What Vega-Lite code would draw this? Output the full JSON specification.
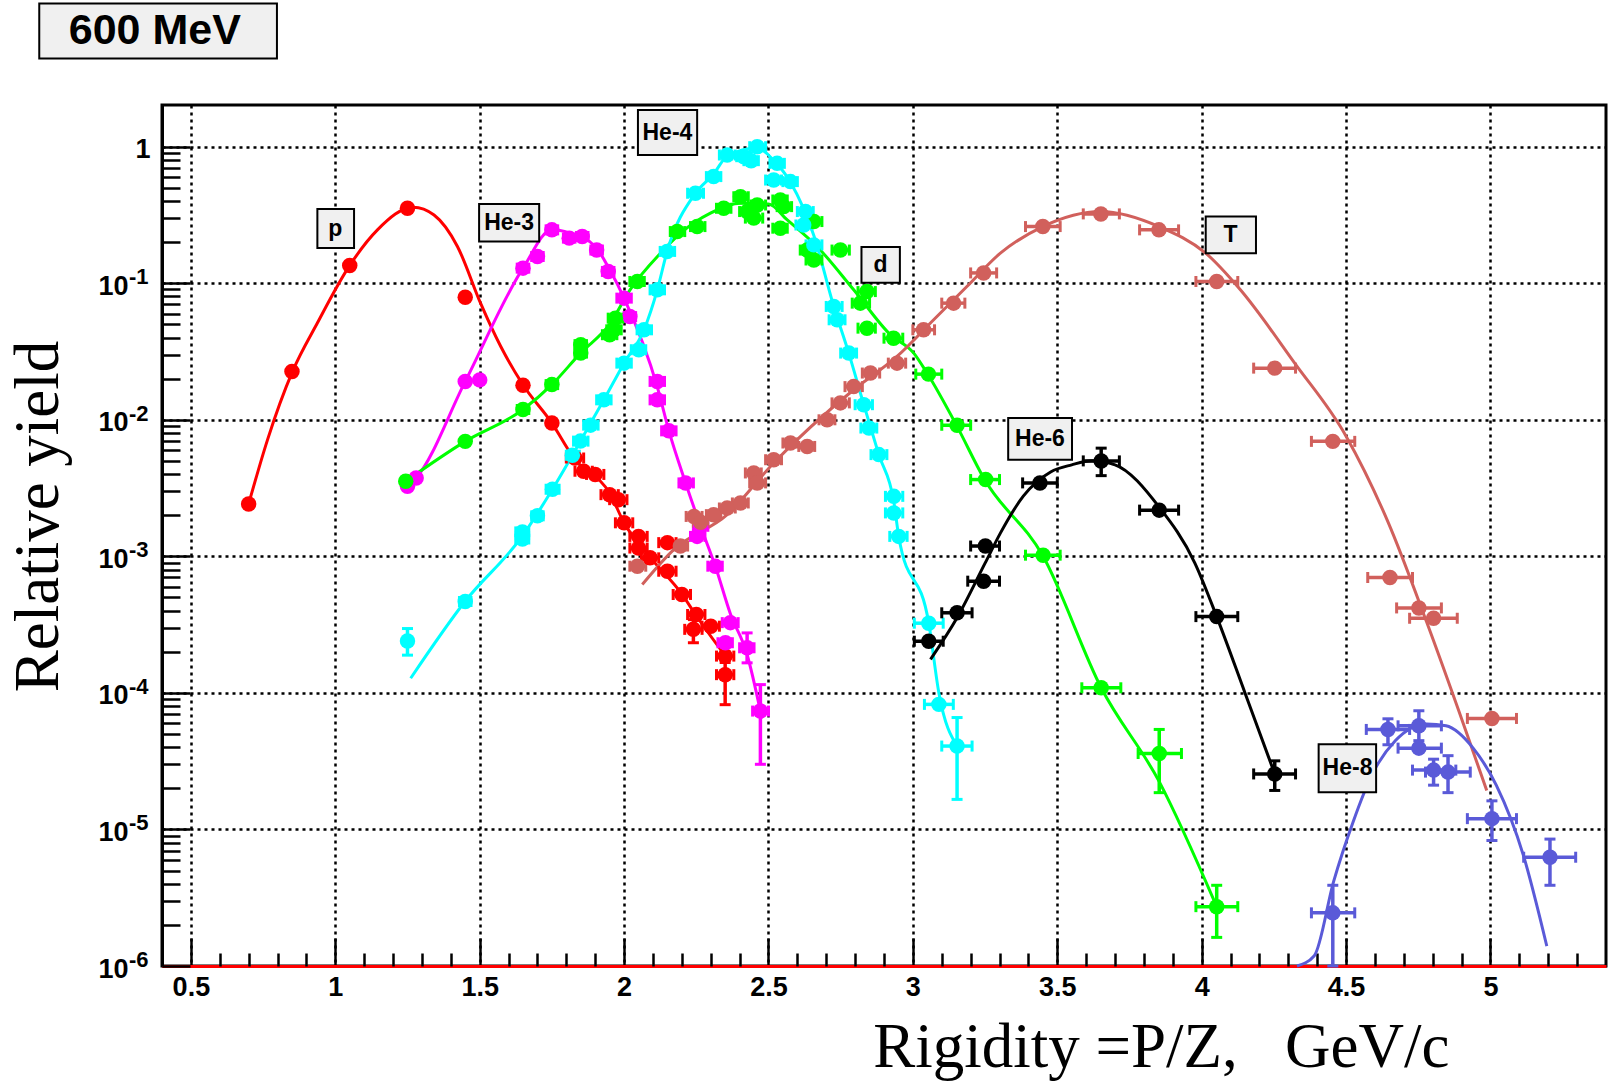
{
  "$schema": "https://vega.github.io/schema/vega-lite/v6.json",
  "width": 1444,
  "height": 861,
  "autosize": {"type": "none"},
  "padding": {"left": 162, "top": 105, "right": 2, "bottom": 118},
  "background": "white",
  "config": {"view": {"stroke": "black", "strokeWidth": 3}, "font": "Liberation Sans"},
  "resolve": {"axis": {"x": "independent"}},
  "datasets": {
    "pts": [
      {"s":"p","x":0.70,"y":0.00242},
      {"s":"p","x":0.85,"y":0.0226},
      {"s":"p","x":1.05,"y":0.135},
      {"s":"p","x":1.25,"y":0.354},
      {"s":"p","x":1.45,"y":0.079},
      {"s":"p","x":1.65,"y":0.0179},
      {"s":"p","x":1.75,"y":0.00946},
      {"s":"p","x":1.83,"y":0.00525,"xl":1.80,"xh":1.86},
      {"s":"p","x":1.86,"y":0.0042,"xl":1.83,"xh":1.89},
      {"s":"p","x":1.90,"y":0.00398,"xl":1.87,"xh":1.93},
      {"s":"p","x":1.95,"y":0.00283,"xl":1.92,"xh":1.98},
      {"s":"p","x":1.98,"y":0.0026,"xl":1.95,"xh":2.01},
      {"s":"p","x":2.00,"y":0.00176,"xl":1.97,"xh":2.03},
      {"s":"p","x":2.05,"y":0.0014,"xl":2.02,"xh":2.08},
      {"s":"p","x":2.05,"y":0.00115,"xl":2.02,"xh":2.08},
      {"s":"p","x":2.15,"y":0.00126,"xl":2.12,"xh":2.18},
      {"s":"p","x":2.09,"y":0.000975,"xl":2.06,"xh":2.12},
      {"s":"p","x":2.15,"y":0.000778,"xl":2.12,"xh":2.18},
      {"s":"p","x":2.20,"y":0.000526,"xl":2.17,"xh":2.23},
      {"s":"p","x":2.25,"y":0.000375,"xl":2.22,"xh":2.28},
      {"s":"p","x":2.24,"y":0.000292,"xl":2.21,"xh":2.27,"yl":0.000233,"yh":0.000344},
      {"s":"p","x":2.30,"y":0.000308,"xl":2.27,"xh":2.33},
      {"s":"p","x":2.35,"y":0.000186,"xl":2.32,"xh":2.38},
      {"s":"p","x":2.35,"y":0.000136,"xl":2.32,"xh":2.38,"yl":0.000082,"yh":0.000167},

      {"s":"He-3","x":1.25,"y":0.00326},
      {"s":"He-3","x":1.28,"y":0.00375},
      {"s":"He-3","x":1.45,"y":0.0191},
      {"s":"He-3","x":1.50,"y":0.0196},
      {"s":"He-3","x":1.65,"y":0.129,"xl":1.63,"xh":1.67},
      {"s":"He-3","x":1.70,"y":0.157,"xl":1.68,"xh":1.72},
      {"s":"He-3","x":1.75,"y":0.246,"xl":1.73,"xh":1.77},
      {"s":"He-3","x":1.81,"y":0.214,"xl":1.79,"xh":1.83},
      {"s":"He-3","x":1.855,"y":0.22,"xl":1.835,"xh":1.875},
      {"s":"He-3","x":1.905,"y":0.175,"xl":1.885,"xh":1.925},
      {"s":"He-3","x":1.945,"y":0.122,"xl":1.925,"xh":1.965},
      {"s":"He-3","x":2.00,"y":0.0778,"xl":1.975,"xh":2.025},
      {"s":"He-3","x":2.02,"y":0.057,"xl":2.0,"xh":2.04},
      {"s":"He-3","x":2.115,"y":0.0191,"xl":2.09,"xh":2.14},
      {"s":"He-3","x":2.115,"y":0.014,"xl":2.09,"xh":2.14},
      {"s":"He-3","x":2.155,"y":0.0083,"xl":2.13,"xh":2.18},
      {"s":"He-3","x":2.213,"y":0.00345,"xl":2.19,"xh":2.24},
      {"s":"He-3","x":2.265,"y":0.00166,"xl":2.24,"xh":2.29},
      {"s":"He-3","x":2.253,"y":0.0014,"xl":2.23,"xh":2.28},
      {"s":"He-3","x":2.316,"y":0.000847,"xl":2.29,"xh":2.34},
      {"s":"He-3","x":2.368,"y":0.000327,"xl":2.34,"xh":2.395},
      {"s":"He-3","x":2.351,"y":0.000233,"xl":2.325,"xh":2.375},
      {"s":"He-3","x":2.426,"y":0.000214,"xl":2.40,"xh":2.45,"yl":0.000166,"yh":0.000275},
      {"s":"He-3","x":2.472,"y":0.0000736,"xl":2.445,"xh":2.50,"yl":0.00003,"yh":0.000115},

      {"s":"d","x":1.244,"y":0.00355},
      {"s":"d","x":1.45,"y":0.00695},
      {"s":"d","x":1.65,"y":0.0119,"xl":1.63,"xh":1.67},
      {"s":"d","x":1.75,"y":0.0181,"xl":1.73,"xh":1.77},
      {"s":"d","x":1.85,"y":0.0308,"xl":1.83,"xh":1.87},
      {"s":"d","x":1.85,"y":0.0355,"xl":1.83,"xh":1.87},
      {"s":"d","x":1.95,"y":0.042,"xl":1.925,"xh":1.975},
      {"s":"d","x":1.97,"y":0.0555,"xl":1.945,"xh":1.995},
      {"s":"d","x":1.965,"y":0.0456,"xl":1.94,"xh":1.99},
      {"s":"d","x":2.046,"y":0.103,"xl":2.02,"xh":2.07},
      {"s":"d","x":2.184,"y":0.239,"xl":2.16,"xh":2.21},
      {"s":"d","x":2.253,"y":0.26,"xl":2.23,"xh":2.28},
      {"s":"d","x":2.345,"y":0.354,"xl":2.32,"xh":2.37},
      {"s":"d","x":2.403,"y":0.43,"xl":2.38,"xh":2.43},
      {"s":"d","x":2.426,"y":0.335,"xl":2.40,"xh":2.45},
      {"s":"d","x":2.461,"y":0.374,"xl":2.44,"xh":2.49},
      {"s":"d","x":2.449,"y":0.30,"xl":2.42,"xh":2.48},
      {"s":"d","x":2.541,"y":0.407,"xl":2.515,"xh":2.565},
      {"s":"d","x":2.553,"y":0.364,"xl":2.53,"xh":2.58},
      {"s":"d","x":2.541,"y":0.253,"xl":2.515,"xh":2.565},
      {"s":"d","x":2.657,"y":0.283,"xl":2.63,"xh":2.685},
      {"s":"d","x":2.634,"y":0.175,"xl":2.61,"xh":2.66},
      {"s":"d","x":2.749,"y":0.175,"xl":2.72,"xh":2.78},
      {"s":"d","x":2.657,"y":0.148,"xl":2.63,"xh":2.685},
      {"s":"d","x":2.841,"y":0.0869,"xl":2.81,"xh":2.87},
      {"s":"d","x":2.818,"y":0.0715,"xl":2.79,"xh":2.85},
      {"s":"d","x":2.841,"y":0.0469,"xl":2.81,"xh":2.87},
      {"s":"d","x":2.933,"y":0.0396,"xl":2.90,"xh":2.965},
      {"s":"d","x":3.054,"y":0.0216,"xl":3.01,"xh":3.10},
      {"s":"d","x":3.153,"y":0.00912,"xl":3.10,"xh":3.20},
      {"s":"d","x":3.252,"y":0.00365,"xl":3.20,"xh":3.30},
      {"s":"d","x":3.451,"y":0.00102,"xl":3.39,"xh":3.51},
      {"s":"d","x":3.652,"y":0.000109,"xl":3.585,"xh":3.72},
      {"s":"d","x":3.853,"y":0.000036,"xl":3.78,"xh":3.93,"yl":0.0000186,"yh":0.000054},
      {"s":"d","x":4.052,"y":0.00000272,"xl":3.98,"xh":4.125,"yl":0.00000162,"yh":0.0000039},

      {"s":"He-4","x":1.25,"y":0.00024,"yl":0.000189,"yh":0.000296},
      {"s":"He-4","x":1.45,"y":0.000467,"xl":1.43,"xh":1.47},
      {"s":"He-4","x":1.648,"y":0.00134,"xl":1.625,"xh":1.67},
      {"s":"He-4","x":1.648,"y":0.00151,"xl":1.625,"xh":1.67},
      {"s":"He-4","x":1.70,"y":0.00198,"xl":1.68,"xh":1.72},
      {"s":"He-4","x":1.752,"y":0.0031,"xl":1.73,"xh":1.775},
      {"s":"He-4","x":1.821,"y":0.0055,"xl":1.80,"xh":1.845},
      {"s":"He-4","x":1.849,"y":0.00698,"xl":1.825,"xh":1.875},
      {"s":"He-4","x":1.884,"y":0.00914,"xl":1.86,"xh":1.91},
      {"s":"He-4","x":1.93,"y":0.014,"xl":1.905,"xh":1.955},
      {"s":"He-4","x":2.0,"y":0.026,"xl":1.975,"xh":2.025},
      {"s":"He-4","x":2.051,"y":0.0326,"xl":2.025,"xh":2.075},
      {"s":"He-4","x":2.069,"y":0.0456,"xl":2.045,"xh":2.095},
      {"s":"He-4","x":2.115,"y":0.0895,"xl":2.09,"xh":2.14},
      {"s":"He-4","x":2.149,"y":0.171,"xl":2.125,"xh":2.175},
      {"s":"He-4","x":2.247,"y":0.456,"xl":2.22,"xh":2.275},
      {"s":"He-4","x":2.31,"y":0.604,"xl":2.285,"xh":2.335},
      {"s":"He-4","x":2.357,"y":0.869,"xl":2.33,"xh":2.385},
      {"s":"He-4","x":2.415,"y":0.845,"xl":2.39,"xh":2.44},
      {"s":"He-4","x":2.461,"y":1.0,"xl":2.435,"xh":2.49},
      {"s":"He-4","x":2.44,"y":0.79,"xl":2.415,"xh":2.465},
      {"s":"He-4","x":2.53,"y":0.755,"xl":2.505,"xh":2.555},
      {"s":"He-4","x":2.518,"y":0.57,"xl":2.49,"xh":2.545},
      {"s":"He-4","x":2.576,"y":0.555,"xl":2.55,"xh":2.60},
      {"s":"He-4","x":2.628,"y":0.335,"xl":2.60,"xh":2.655},
      {"s":"He-4","x":2.622,"y":0.267,"xl":2.595,"xh":2.65},
      {"s":"He-4","x":2.657,"y":0.191,"xl":2.63,"xh":2.685},
      {"s":"He-4","x":2.726,"y":0.0676,"xl":2.70,"xh":2.755},
      {"s":"He-4","x":2.738,"y":0.054,"xl":2.71,"xh":2.765},
      {"s":"He-4","x":2.778,"y":0.0308,"xl":2.75,"xh":2.805},
      {"s":"He-4","x":2.83,"y":0.0129,"xl":2.80,"xh":2.86},
      {"s":"He-4","x":2.848,"y":0.0087,"xl":2.82,"xh":2.875},
      {"s":"He-4","x":2.882,"y":0.00556,"xl":2.855,"xh":2.91},
      {"s":"He-4","x":2.934,"y":0.00275,"xl":2.905,"xh":2.965},
      {"s":"He-4","x":2.934,"y":0.00208,"xl":2.905,"xh":2.965},
      {"s":"He-4","x":2.951,"y":0.0014,"xl":2.92,"xh":2.98},
      {"s":"He-4","x":3.055,"y":0.000324,"xl":3.005,"xh":3.105},
      {"s":"He-4","x":3.09,"y":0.0000824,"xl":3.04,"xh":3.14},
      {"s":"He-4","x":3.153,"y":0.0000408,"xl":3.10,"xh":3.205,"yl":0.0000166,"yh":0.000066},

      {"s":"T","x":2.046,"y":0.000847,"xl":2.02,"xh":2.075},
      {"s":"T","x":2.195,"y":0.00119,"xl":2.17,"xh":2.22},
      {"s":"T","x":2.242,"y":0.00196,"xl":2.215,"xh":2.27},
      {"s":"T","x":2.265,"y":0.00178,"xl":2.24,"xh":2.29},
      {"s":"T","x":2.31,"y":0.00202,"xl":2.285,"xh":2.335},
      {"s":"T","x":2.357,"y":0.00226,"xl":2.33,"xh":2.385},
      {"s":"T","x":2.403,"y":0.00246,"xl":2.375,"xh":2.43},
      {"s":"T","x":2.449,"y":0.00408,"xl":2.42,"xh":2.475},
      {"s":"T","x":2.461,"y":0.00345,"xl":2.435,"xh":2.49},
      {"s":"T","x":2.518,"y":0.0051,"xl":2.49,"xh":2.545},
      {"s":"T","x":2.576,"y":0.00676,"xl":2.55,"xh":2.60},
      {"s":"T","x":2.634,"y":0.00638,"xl":2.605,"xh":2.66},
      {"s":"T","x":2.703,"y":0.01,"xl":2.675,"xh":2.73},
      {"s":"T","x":2.749,"y":0.0133,"xl":2.72,"xh":2.78},
      {"s":"T","x":2.795,"y":0.0175,"xl":2.765,"xh":2.825},
      {"s":"T","x":2.853,"y":0.022,"xl":2.825,"xh":2.885},
      {"s":"T","x":2.945,"y":0.026,"xl":2.915,"xh":2.975},
      {"s":"T","x":3.037,"y":0.0456,"xl":3.0,"xh":3.075},
      {"s":"T","x":3.141,"y":0.0715,"xl":3.10,"xh":3.18},
      {"s":"T","x":3.245,"y":0.119,"xl":3.20,"xh":3.29},
      {"s":"T","x":3.45,"y":0.26,"xl":3.39,"xh":3.51},
      {"s":"T","x":3.651,"y":0.322,"xl":3.59,"xh":3.715},
      {"s":"T","x":3.852,"y":0.246,"xl":3.785,"xh":3.92},
      {"s":"T","x":4.052,"y":0.103,"xl":3.98,"xh":4.125},
      {"s":"T","x":4.253,"y":0.0239,"xl":4.18,"xh":4.325},
      {"s":"T","x":4.454,"y":0.00695,"xl":4.38,"xh":4.53},
      {"s":"T","x":4.652,"y":0.0007,"xl":4.575,"xh":4.73},
      {"s":"T","x":4.752,"y":0.000419,"xl":4.675,"xh":4.83},
      {"s":"T","x":4.803,"y":0.000352,"xl":4.72,"xh":4.885},
      {"s":"T","x":5.005,"y":0.000065,"xl":4.92,"xh":5.09},

      {"s":"He-6","x":3.055,"y":0.000239,"xl":3.005,"xh":3.105},
      {"s":"He-6","x":3.153,"y":0.000386,"xl":3.10,"xh":3.205},
      {"s":"He-6","x":3.245,"y":0.000658,"xl":3.19,"xh":3.30},
      {"s":"He-6","x":3.251,"y":0.00119,"xl":3.20,"xh":3.30},
      {"s":"He-6","x":3.44,"y":0.00345,"xl":3.38,"xh":3.50},
      {"s":"He-6","x":3.652,"y":0.005,"xl":3.59,"xh":3.715,"yl":0.0039,"yh":0.0062},
      {"s":"He-6","x":3.853,"y":0.00218,"xl":3.785,"xh":3.92},
      {"s":"He-6","x":4.052,"y":0.000362,"xl":3.98,"xh":4.125},
      {"s":"He-6","x":4.253,"y":0.0000255,"xl":4.18,"xh":4.325,"yl":0.0000193,"yh":0.0000318},

      {"s":"He-8","x":4.454,"y":0.00000245,"xl":4.38,"xh":4.53,"yl":0.000001,"yh":0.0000039},
      {"s":"He-8","x":4.645,"y":0.000054,"xl":4.57,"xh":4.72,"yl":0.0000417,"yh":0.0000646},
      {"s":"He-8","x":4.752,"y":0.0000574,"xl":4.68,"xh":4.83,"yl":0.0000447,"yh":0.000074},
      {"s":"He-8","x":4.752,"y":0.0000394,"xl":4.68,"xh":4.83},
      {"s":"He-8","x":4.803,"y":0.0000272,"xl":4.73,"xh":4.88,"yl":0.0000211,"yh":0.0000327},
      {"s":"He-8","x":4.853,"y":0.0000263,"xl":4.775,"xh":4.93,"yl":0.0000186,"yh":0.0000347},
      {"s":"He-8","x":5.005,"y":0.000012,"xl":4.92,"xh":5.09,"yl":0.0000083,"yh":0.0000162},
      {"s":"He-8","x":5.206,"y":0.00000626,"xl":5.115,"xh":5.295,"yl":0.0000039,"yh":0.0000085}
    ],
    "curves": [
      {"s":"p","x":0.70,"y":0.00242},
      {"s":"p","x":0.765,"y":0.0071},
      {"s":"p","x":0.852,"y":0.0226},
      {"s":"p","x":0.938,"y":0.0511},
      {"s":"p","x":1.05,"y":0.135},
      {"s":"p","x":1.146,"y":0.246},
      {"s":"p","x":1.27,"y":0.36},
      {"s":"p","x":1.342,"y":0.316},
      {"s":"p","x":1.423,"y":0.186},
      {"s":"p","x":1.503,"y":0.0715},
      {"s":"p","x":1.573,"y":0.0344},
      {"s":"p","x":1.651,"y":0.0179},
      {"s":"p","x":1.75,"y":0.00946},
      {"s":"p","x":1.826,"y":0.00525},
      {"s":"p","x":1.953,"y":0.00283},
      {"s":"p","x":2.0,"y":0.00176},
      {"s":"p","x":2.092,"y":0.000975},
      {"s":"p","x":2.201,"y":0.000526},
      {"s":"p","x":2.247,"y":0.000375},
      {"s":"p","x":2.351,"y":0.000186},

      {"s":"He-3","x":1.25,"y":0.00326},
      {"s":"He-3","x":1.28,"y":0.00375},
      {"s":"He-3","x":1.45,"y":0.0191},
      {"s":"He-3","x":1.65,"y":0.129},
      {"s":"He-3","x":1.75,"y":0.246},
      {"s":"He-3","x":1.81,"y":0.234},
      {"s":"He-3","x":1.90,"y":0.186},
      {"s":"He-3","x":1.95,"y":0.126},
      {"s":"He-3","x":2.0,"y":0.0778},
      {"s":"He-3","x":2.115,"y":0.0174},
      {"s":"He-3","x":2.155,"y":0.00832},
      {"s":"He-3","x":2.213,"y":0.00345},
      {"s":"He-3","x":2.265,"y":0.00166},
      {"s":"He-3","x":2.316,"y":0.000847},
      {"s":"He-3","x":2.368,"y":0.00038},
      {"s":"He-3","x":2.426,"y":0.000191},
      {"s":"He-3","x":2.472,"y":0.0000736},

      {"s":"d","x":1.244,"y":0.00355},
      {"s":"d","x":1.45,"y":0.00695},
      {"s":"d","x":1.65,"y":0.0119},
      {"s":"d","x":1.75,"y":0.0181},
      {"s":"d","x":1.85,"y":0.0309},
      {"s":"d","x":1.95,"y":0.0501},
      {"s":"d","x":2.02,"y":0.0891},
      {"s":"d","x":2.126,"y":0.166},
      {"s":"d","x":2.195,"y":0.232},
      {"s":"d","x":2.299,"y":0.326},
      {"s":"d","x":2.403,"y":0.385},
      {"s":"d","x":2.50,"y":0.38},
      {"s":"d","x":2.565,"y":0.291},
      {"s":"d","x":2.668,"y":0.186},
      {"s":"d","x":2.795,"y":0.0895},
      {"s":"d","x":2.922,"y":0.042},
      {"s":"d","x":3.003,"y":0.0308},
      {"s":"d","x":3.049,"y":0.022},
      {"s":"d","x":3.153,"y":0.00895},
      {"s":"d","x":3.245,"y":0.00375},
      {"s":"d","x":3.451,"y":0.001},
      {"s":"d","x":3.652,"y":0.000109},
      {"s":"d","x":3.853,"y":0.0000224},
      {"s":"d","x":4.052,"y":0.00000272},

      {"s":"He-4","x":1.261,"y":0.000128},
      {"s":"He-4","x":1.449,"y":0.000467},
      {"s":"He-4","x":1.648,"y":0.00141},
      {"s":"He-4","x":1.752,"y":0.0031},
      {"s":"He-4","x":1.849,"y":0.00698},
      {"s":"He-4","x":1.93,"y":0.014},
      {"s":"He-4","x":2.0,"y":0.026},
      {"s":"He-4","x":2.069,"y":0.0456},
      {"s":"He-4","x":2.115,"y":0.0895},
      {"s":"He-4","x":2.149,"y":0.171},
      {"s":"He-4","x":2.247,"y":0.456},
      {"s":"He-4","x":2.31,"y":0.631},
      {"s":"He-4","x":2.357,"y":0.851},
      {"s":"He-4","x":2.461,"y":0.977},
      {"s":"He-4","x":2.518,"y":0.794},
      {"s":"He-4","x":2.576,"y":0.55},
      {"s":"He-4","x":2.657,"y":0.224},
      {"s":"He-4","x":2.726,"y":0.0676},
      {"s":"He-4","x":2.778,"y":0.0308},
      {"s":"He-4","x":2.83,"y":0.0129},
      {"s":"He-4","x":2.882,"y":0.00556},
      {"s":"He-4","x":2.934,"y":0.00251},
      {"s":"He-4","x":2.951,"y":0.0014},
      {"s":"He-4","x":3.055,"y":0.000324},
      {"s":"He-4","x":3.09,"y":0.0001},
      {"s":"He-4","x":3.153,"y":0.0000408},

      {"s":"T","x":2.063,"y":0.000622},
      {"s":"T","x":2.172,"y":0.00112},
      {"s":"T","x":2.357,"y":0.00202},
      {"s":"T","x":2.518,"y":0.00483},
      {"s":"T","x":2.795,"y":0.0166},
      {"s":"T","x":2.945,"y":0.0291},
      {"s":"T","x":3.072,"y":0.054},
      {"s":"T","x":3.187,"y":0.0946},
      {"s":"T","x":3.303,"y":0.166},
      {"s":"T","x":3.45,"y":0.26},
      {"s":"T","x":3.651,"y":0.335},
      {"s":"T","x":3.852,"y":0.26},
      {"s":"T","x":4.014,"y":0.166},
      {"s":"T","x":4.134,"y":0.0895},
      {"s":"T","x":4.322,"y":0.026},
      {"s":"T","x":4.50,"y":0.00759},
      {"s":"T","x":4.645,"y":0.00179},
      {"s":"T","x":4.779,"y":0.00033},
      {"s":"T","x":4.913,"y":0.000054},
      {"s":"T","x":4.987,"y":0.0000193},

      {"s":"He-6","x":3.061,"y":0.000176},
      {"s":"He-6","x":3.153,"y":0.000355},
      {"s":"He-6","x":3.25,"y":0.000891},
      {"s":"He-6","x":3.303,"y":0.00148},
      {"s":"He-6","x":3.383,"y":0.00277},
      {"s":"He-6","x":3.477,"y":0.00415},
      {"s":"He-6","x":3.55,"y":0.00468},
      {"s":"He-6","x":3.62,"y":0.00501},
      {"s":"He-6","x":3.70,"y":0.00468},
      {"s":"He-6","x":3.853,"y":0.00229},
      {"s":"He-6","x":3.976,"y":0.000897},
      {"s":"He-6","x":4.052,"y":0.000362},
      {"s":"He-6","x":4.15,"y":0.0001},
      {"s":"He-6","x":4.253,"y":0.0000255},

      {"s":"He-8","x":4.33,"y":0.000001},
      {"s":"He-8","x":4.39,"y":0.00000119},
      {"s":"He-8","x":4.457,"y":0.00000417},
      {"s":"He-8","x":4.524,"y":0.0000113},
      {"s":"He-8","x":4.591,"y":0.0000255},
      {"s":"He-8","x":4.671,"y":0.0000448},
      {"s":"He-8","x":4.779,"y":0.0000593},
      {"s":"He-8","x":4.846,"y":0.0000574},
      {"s":"He-8","x":4.94,"y":0.0000394},
      {"s":"He-8","x":5.02,"y":0.0000211},
      {"s":"He-8","x":5.114,"y":0.00000646},
      {"s":"He-8","x":5.195,"y":0.0000014}
    ],
    "labels": [
      {"t":"p","x1":0.938,"x2":1.065,"y1":0.35,"y2":0.181,"xc":1.0,"yc":0.251},
      {"t":"He-3","x1":1.498,"x2":1.706,"y1":0.381,"y2":0.202,"xc":1.602,"yc":0.277},
      {"t":"He-4","x1":2.048,"x2":2.253,"y1":1.853,"y2":0.869,"xc":2.15,"yc":1.26},
      {"t":"d","x1":2.822,"x2":2.955,"y1":0.184,"y2":0.101,"xc":2.888,"yc":0.136},
      {"t":"T","x1":4.014,"x2":4.188,"y1":0.308,"y2":0.166,"xc":4.10,"yc":0.226},
      {"t":"He-6","x1":3.33,"x2":3.551,"y1":0.0103,"y2":0.0051,"xc":3.44,"yc":0.00724},
      {"t":"He-8","x1":4.405,"x2":4.604,"y1":0.000042,"y2":0.0000187,"xc":4.505,"yc":0.000028}
    ],
    "energy": [
      {"t":"600 MeV","x1":-0.025,"x2":0.798,"y1":11.2,"y2":4.43,"xc":0.375,"yc":7.05}
    ],
    "exponents": [
      {"v":0.1,"e":"-1"},
      {"v":0.01,"e":"-2"},
      {"v":0.001,"e":"-3"},
      {"v":0.0001,"e":"-4"},
      {"v":0.00001,"e":"-5"},
      {"v":0.000001,"e":"-6"}
    ]
  },
  "layer": [
    {
      "data": {"name": "curves"},
      "mark": {"type": "line", "strokeWidth": 3, "interpolate": "monotone"},
      "encoding": {
        "x": {
          "field": "x", "type": "quantitative",
          "scale": {"domain": [0.4, 5.4], "nice": false, "zero": false},
          "axis": {
            "orient": "bottom",
            "title": "Rigidity =P/Z,\u00a0\u00a0\u00a0GeV/c",
            "titleFont": "Liberation Serif", "titleFontSize": 63, "titleFontWeight": "normal", "titleColor": "black",
            "titleAlign": "right", "titleX": 1287, "titleY": 100, "titleBaseline": "alphabetic",
            "values": [0.5,1,1.5,2,2.5,3,3.5,4,4.5,5],
            "format": "~g",
            "labelFont": "Liberation Sans", "labelFontWeight": "bold", "labelFontSize": 27, "labelColor": "black",
            "labelOverlap": false, "labelFlush": false, "labelBaseline": "top", "labelPadding": 36,
            "tickColor": "black", "tickWidth": 2.5, "tickSize": -28,
            "grid": true, "gridColor": "black", "gridDash": [3, 4], "gridWidth": 2.5,
            "domainColor": "#ff0000", "domainWidth": 3
          }
        },
        "y": {
          "field": "y", "type": "quantitative",
          "scale": {"type": "log", "domain": [0.000001, 2.02], "nice": false},
          "axis": {
            "title": "Relative yield",
            "titleFont": "Liberation Serif", "titleFontSize": 63, "titleFontWeight": "normal", "titleColor": "black",
            "titleAngle": 270, "titleAlign": "center", "titleBaseline": "alphabetic", "titleX": -105, "titleY": 411,
            "values": [0.000001,0.000002,0.000003,0.000004,0.000005,0.000006,0.000007,0.000008,0.000009,
                       0.00001,0.00002,0.00003,0.00004,0.00005,0.00006,0.00007,0.00008,0.00009,
                       0.0001,0.0002,0.0003,0.0004,0.0005,0.0006,0.0007,0.0008,0.0009,
                       0.001,0.002,0.003,0.004,0.005,0.006,0.007,0.008,0.009,
                       0.01,0.02,0.03,0.04,0.05,0.06,0.07,0.08,0.09,
                       0.1,0.2,0.3,0.4,0.5,0.6,0.7,0.8,0.9,1],
            "labelExpr": "abs(log(datum.value)/LN10 - round(log(datum.value)/LN10)) < 0.01 ? (datum.value > 0.5 ? '1' : '10') : ''",
            "labelFont": "Liberation Sans", "labelFontWeight": "bold", "labelFontSize": 27, "labelColor": "black",
            "labelOverlap": false, "labelFlush": false, "labelBaseline": "middle", "labelOffset": 3,
            "labelPadding": {"condition": {"test": "datum.value > 0.5", "value": 40}, "value": 62},
            "tickColor": "black", "tickWidth": 2.5,
            "tickSize": {"condition": {"test": "abs(log(datum.value)/LN10 - round(log(datum.value)/LN10)) < 0.01", "value": -28}, "value": -18},
            "grid": true, "gridColor": "black", "gridDash": [3, 4], "gridWidth": 2.5,
            "gridOpacity": {"condition": {"test": "abs(log(datum.value)/LN10 - round(log(datum.value)/LN10)) < 0.01", "value": 1}, "value": 0},
            "domainColor": "black", "domainWidth": 3
          }
        },
        "color": {
          "field": "s", "type": "nominal", "legend": null,
          "scale": {"domain": ["p","He-3","d","He-4","T","He-6","He-8"], "range": ["#ff0000","#ff00ff","#00ff00","#00ffff","#d1605c","#000000","#5a5ad8"]}
        }
      }
    },
    {
      "data": {"name": "exponents"},
      "mark": {"type": "text", "font": "Liberation Sans", "fontSize": 22, "fontWeight": "bold", "align": "left", "baseline": "alphabetic", "dx": -33, "dy": 1, "color": "black"},
      "encoding": {
        "x": {"datum": 0.4, "type": "quantitative", "axis": null},
        "y": {"field": "v", "type": "quantitative"},
        "text": {"field": "e"}
      }
    },
    {
      "data": {"name": "pts"},
      "transform": [{"filter": "isValid(datum.xl)"}],
      "mark": {"type": "rule", "strokeWidth": 3.5},
      "encoding": {
        "x": {
          "field": "xl", "type": "quantitative",
          "axis": {
            "orient": "bottom", "title": null, "labels": false, "grid": false, "domain": false,
            "values": [0.6,0.7,0.8,0.9,1.1,1.2,1.3,1.4,1.6,1.7,1.8,1.9,2.1,2.2,2.3,2.4,2.6,2.7,2.8,2.9,3.1,3.2,3.3,3.4,3.6,3.7,3.8,3.9,4.1,4.2,4.3,4.4,4.6,4.7,4.8,4.9,5.1,5.2,5.3],
            "tickColor": "black", "tickWidth": 2.5, "tickSize": -13
          }
        },
        "x2": {"field": "xh"},
        "y": {"field": "y", "type": "quantitative"},
        "color": {"field": "s", "type": "nominal"}
      }
    },
    {
      "data": {"name": "pts"},
      "transform": [{"filter": "isValid(datum.xl)"}, {"fold": ["xl", "xh"], "as": ["k", "xe"]}],
      "mark": {"type": "tick", "orient": "vertical", "size": 11, "thickness": 3, "opacity": 1},
      "encoding": {
        "x": {"field": "xe", "type": "quantitative", "axis": null},
        "y": {"field": "y", "type": "quantitative"},
        "color": {"field": "s", "type": "nominal"}
      }
    },
    {
      "data": {"name": "pts"},
      "transform": [{"filter": "isValid(datum.yl)"}],
      "mark": {"type": "rule", "strokeWidth": 3.5},
      "encoding": {
        "x": {"field": "x", "type": "quantitative", "axis": null},
        "y": {"field": "yl", "type": "quantitative"},
        "y2": {"field": "yh"},
        "color": {"field": "s", "type": "nominal"}
      }
    },
    {
      "data": {"name": "pts"},
      "transform": [{"filter": "isValid(datum.yl)"}, {"fold": ["yl", "yh"], "as": ["k", "ye"]}],
      "mark": {"type": "tick", "orient": "horizontal", "size": 11, "thickness": 3, "opacity": 1},
      "encoding": {
        "x": {"field": "x", "type": "quantitative", "axis": null},
        "y": {"field": "ye", "type": "quantitative"},
        "color": {"field": "s", "type": "nominal"}
      }
    },
    {
      "data": {"name": "pts"},
      "mark": {"type": "circle", "size": 240, "opacity": 1},
      "encoding": {
        "x": {"field": "x", "type": "quantitative", "axis": null},
        "y": {"field": "y", "type": "quantitative"},
        "color": {"field": "s", "type": "nominal"}
      }
    },
    {
      "data": {"name": "labels"},
      "mark": {"type": "rect", "fill": "black", "xOffset": 3, "yOffset": 3},
      "encoding": {
        "x": {"field": "x1", "type": "quantitative", "axis": null}, "x2": {"field": "x2"},
        "y": {"field": "y1", "type": "quantitative"}, "y2": {"field": "y2"}
      }
    },
    {
      "data": {"name": "labels"},
      "mark": {"type": "rect", "fill": "#f0f0f0", "stroke": "black", "strokeWidth": 2},
      "encoding": {
        "x": {"field": "x1", "type": "quantitative", "axis": null}, "x2": {"field": "x2"},
        "y": {"field": "y1", "type": "quantitative"}, "y2": {"field": "y2"}
      }
    },
    {
      "data": {"name": "labels"},
      "mark": {"type": "text", "font": "Liberation Sans", "fontSize": 23, "fontWeight": "bold", "align": "center", "baseline": "middle", "color": "black"},
      "encoding": {
        "x": {"field": "xc", "type": "quantitative", "axis": null},
        "y": {"field": "yc", "type": "quantitative"},
        "text": {"field": "t"}
      }
    },
    {
      "data": {"name": "energy"},
      "mark": {"type": "rect", "fill": "black", "xOffset": 3, "yOffset": 3},
      "encoding": {
        "x": {"field": "x1", "type": "quantitative", "axis": null}, "x2": {"field": "x2"},
        "y": {"field": "y1", "type": "quantitative"}, "y2": {"field": "y2"}
      }
    },
    {
      "data": {"name": "energy"},
      "mark": {"type": "rect", "fill": "#f0f0f0", "stroke": "black", "strokeWidth": 2},
      "encoding": {
        "x": {"field": "x1", "type": "quantitative", "axis": null}, "x2": {"field": "x2"},
        "y": {"field": "y1", "type": "quantitative"}, "y2": {"field": "y2"}
      }
    },
    {
      "data": {"name": "energy"},
      "mark": {"type": "text", "font": "Liberation Sans", "fontSize": 43, "fontWeight": "bold", "align": "center", "baseline": "middle", "color": "black"},
      "encoding": {
        "x": {"field": "xc", "type": "quantitative", "axis": null},
        "y": {"field": "yc", "type": "quantitative"},
        "text": {"field": "t"}
      }
    }
  ]
}
